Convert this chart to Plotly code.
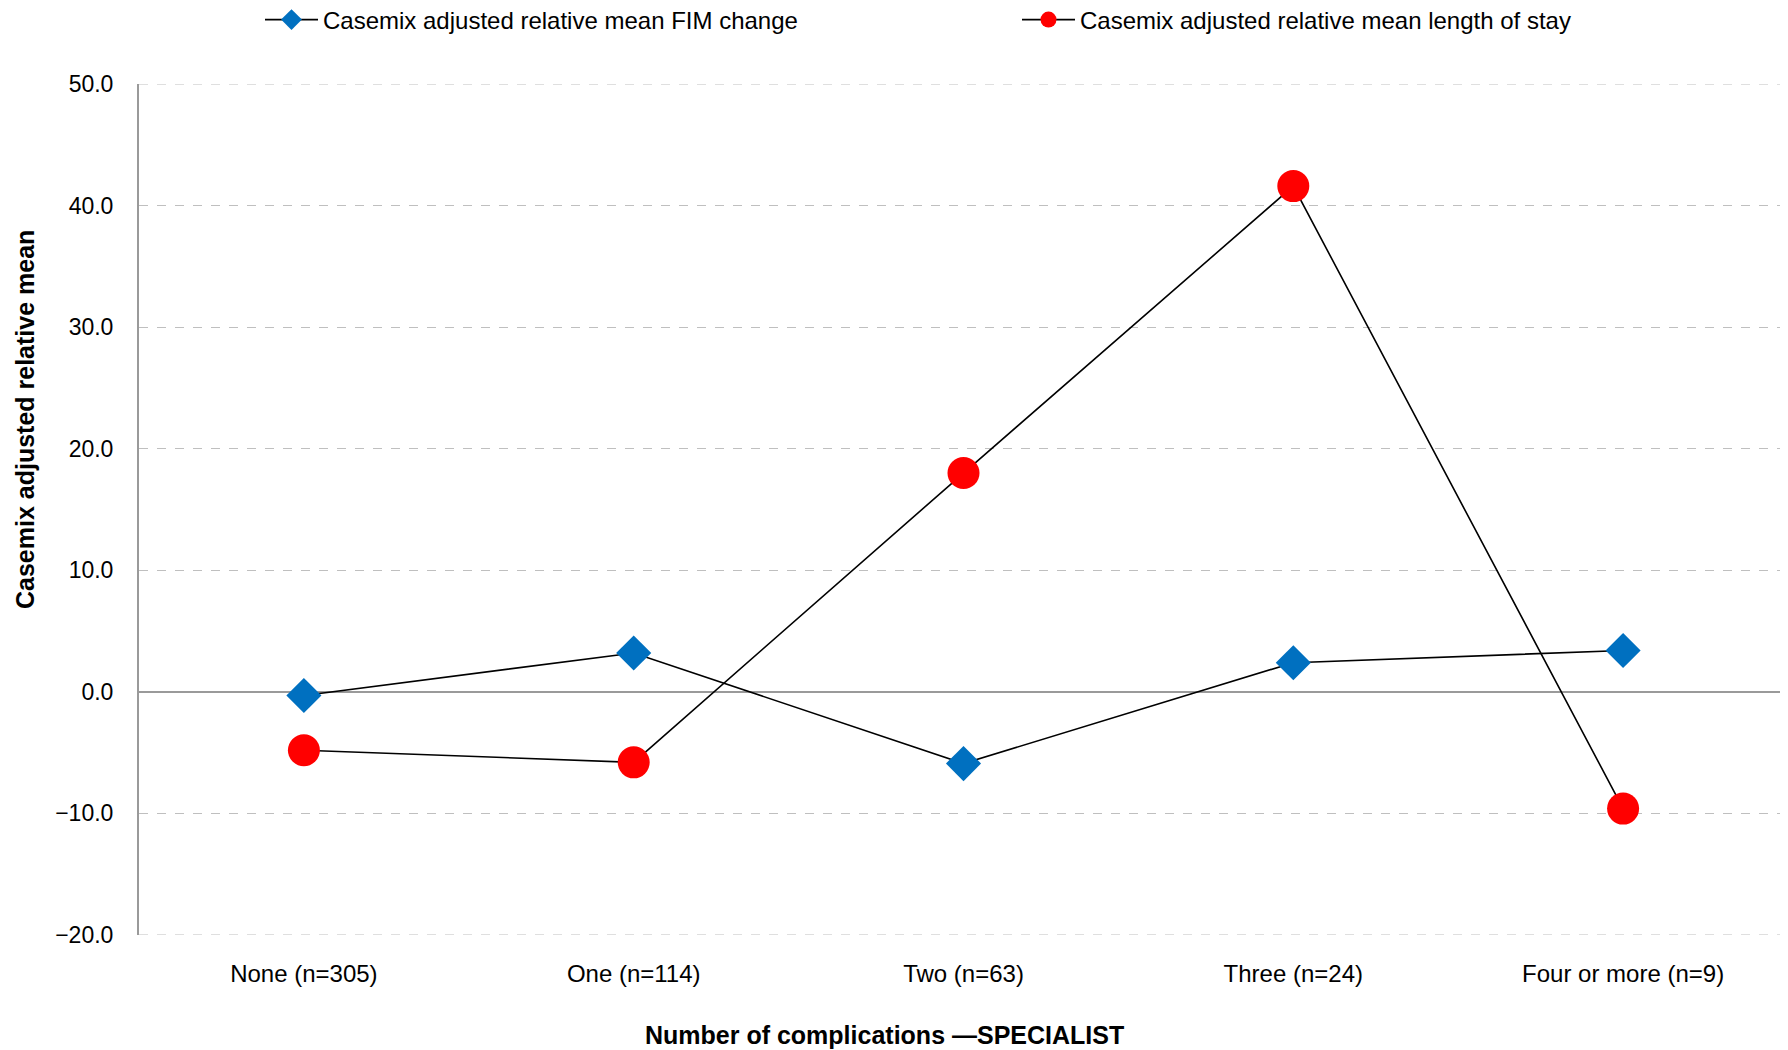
import plotly.graph_objects as go

categories = ["None (n=305)", "One (n=114)", "Two (n=63)", "Three (n=24)", "Four or more (n=9)"]
fim_change = [-0.3, 3.2, -5.9, 2.4, 3.4]
length_of_stay = [-4.8, -5.8, 18.0, 41.6, -9.6]
y_ticks = [-20, -10, 0, 10, 20, 30, 40, 50]
y_min, y_max = -20, 50

FONT = "Liberation Sans, Arial, sans-serif"

fig = go.Figure()
fig.add_trace(go.Scatter(
    x=categories, y=fim_change, mode="lines+markers",
    name="Casemix adjusted relative mean FIM change",
    line=dict(color="black", width=1.6),
    marker=dict(symbol="diamond", size=27, color="#0070C0"),
))
fig.add_trace(go.Scatter(
    x=categories, y=length_of_stay, mode="lines+markers",
    name="Casemix adjusted relative mean length of stay",
    line=dict(color="black", width=1.6),
    marker=dict(symbol="circle", size=32, color="#FF0000"),
))

# page has an 8px body margin; figure sized to fill the window
OFF = 8
W, H = 1788 - OFF, 1050 - OFF
L, R, T, B = 139 - OFF, 0, 84 - OFF, 115
pw, ph = W - L - R, H - T - B

def px_x(page_x):
    return (page_x - OFF - L) / pw

def px_y(page_y):
    return (T + ph - (page_y - OFF)) / ph

fig.update_layout(
    width=W, height=H,
    margin=dict(l=L, r=R, t=T, b=B, autoexpand=False),
    paper_bgcolor="white", plot_bgcolor="white",
    font=dict(family=FONT, size=24, color="black"),
    showlegend=True,
    legend=dict(
        orientation="h", x=px_x(260), xanchor="left",
        y=px_y(20), yanchor="middle",
        font=dict(size=24), entrywidth=689, itemwidth=53,
        bgcolor="rgba(0,0,0,0)",
    ),
    xaxis=dict(
        type="category", range=[-0.5, 4.5],
        showgrid=False, showline=False, zeroline=False,
        ticks="outside", ticklen=17, tickcolor="rgba(0,0,0,0)",
        tickfont=dict(size=24),
    ),
    yaxis=dict(
        range=[y_min, y_max], tickvals=y_ticks, tickformat=".1f",
        showgrid=True, gridcolor="#BFBFBF", griddash="dash", gridwidth=1,
        zeroline=True, zerolinecolor="#9A9A9A", zerolinewidth=2,
        showline=True, linecolor="#9A9A9A", linewidth=2,
        ticks="outside", ticklen=19, tickcolor="rgba(0,0,0,0)",
        tickfont=dict(size=23),
    ),
    shapes=[
        dict(type="line", xref="paper", yref="y", x0=0, x1=1, y0=v, y1=v,
             line=dict(color="#BFBFBF", width=1, dash="dash"), layer="below")
        for v in (y_min, y_max)
    ],
    annotations=[
        dict(text="<b>Number of complications \u2014SPECIALIST</b>",
             xref="paper", yref="paper",
             x=px_x(884), y=px_y(1035),
             xanchor="center", yanchor="middle", showarrow=False,
             font=dict(size=25)),
        dict(text="<b>Casemix adjusted relative mean</b>",
             xref="paper", yref="paper",
             x=px_x(25), y=px_y(420),
             xanchor="center", yanchor="middle", showarrow=False,
             textangle=-90, font=dict(size=25)),
    ],
)

fig.write_html("out.html")
